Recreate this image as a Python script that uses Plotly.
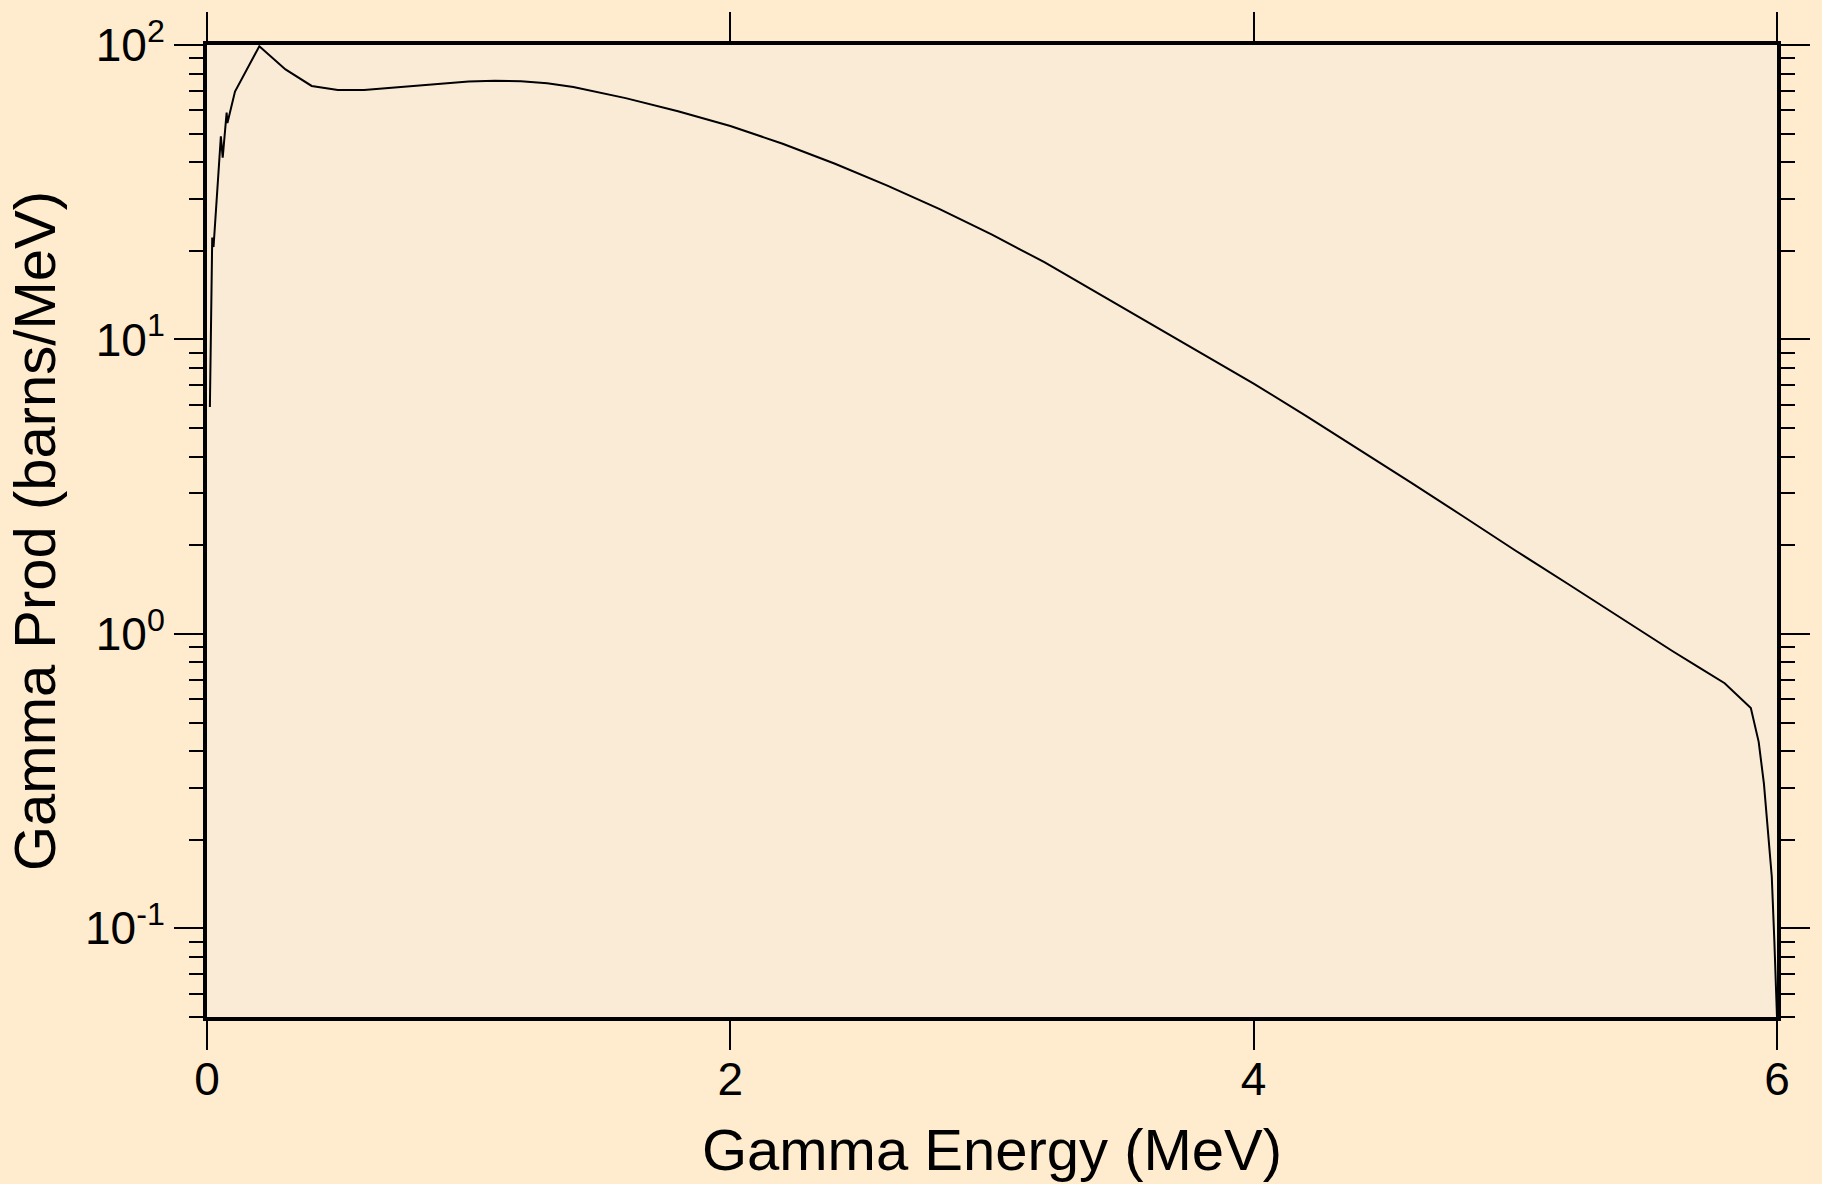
import math
import plotly.graph_objects as go

# Data
energy_mev = [0.011, 0.020, 0.025, 0.053, 0.060, 0.075, 0.078, 0.107, 0.200, 0.300,
              0.400, 0.500, 0.600, 0.700, 0.800, 0.900, 1.000, 1.100, 1.200, 1.300,
              1.400, 1.600, 1.800, 2.000, 2.200, 2.400, 2.600, 2.800, 3.000, 3.200,
              3.400, 3.600, 3.800, 4.000, 4.200, 4.400, 4.600, 4.800, 5.000, 5.200,
              5.400, 5.600, 5.700, 5.800, 5.900, 5.930, 5.950, 5.965, 5.980, 5.990,
              6.000]
gamma_prod = [5.9, 22.2, 20.6, 49.0, 41.4, 59.0, 54.3, 69.5, 99.0, 82.6,
              72.6, 70.3, 70.3, 71.5, 73.0, 74.3, 75.2, 75.6, 75.3, 74.2,
              72.0, 66.0, 59.6, 53.1, 46.2, 39.5, 33.3, 27.7, 22.7, 18.3,
              14.45, 11.4, 9.0, 7.08, 5.50, 4.25, 3.27, 2.51, 1.92, 1.48,
              1.135, 0.875, 0.771, 0.68, 0.56, 0.43, 0.31, 0.22, 0.15, 0.09,
              0.05]

x_tickvals = [0, 2, 4, 6]
y_tickvals = [0.1, 1, 10, 100]
y_ticktext = ["10<sup>-1</sup>", "10<sup>0</sup>", "10<sup>1</sup>", "10<sup>2</sup>"]
y_minor = [m * 10 ** e for e in range(-2, 2) for m in range(2, 10) if m * 10 ** e >= 0.05]

fig = go.Figure(
    go.Scatter(x=energy_mev, y=gamma_prod, mode="lines",
               line=dict(color="black", width=2), hoverinfo="skip")
)

fig.update_layout(
    width=1822, height=1184,
    margin=dict(l=207, r=40, t=38, b=167),
    paper_bgcolor="#FFEBCD",
    plot_bgcolor="#FAEBD7",
    showlegend=False,
    font=dict(family="Liberation Sans, Arial, sans-serif", color="black"),
)

fig.update_xaxes(
    range=[0, 6], tickmode="array", tickvals=x_tickvals,
    ticks="outside", ticklen=29, tickwidth=2, tickcolor="black",
    showline=True, linewidth=4, linecolor="black", mirror="allticks",
    showgrid=False, zeroline=False,
    tickfont=dict(size=46), ticklabelstandoff=-10,
    title=dict(text="Gamma Energy (MeV)", font=dict(size=58), standoff=26),
)

fig.update_yaxes(
    type="log", range=[math.log10(0.05), 2],
    tickmode="array", tickvals=y_tickvals, ticktext=y_ticktext,
    ticks="outside", ticklen=29, tickwidth=2, tickcolor="black",
    minor=dict(tickmode="array", tickvals=y_minor, ticks="outside",
               ticklen=14, tickwidth=2, tickcolor="black", showgrid=False),
    showline=True, linewidth=4, linecolor="black", mirror="allticks",
    showgrid=False, zeroline=False,
    tickfont=dict(size=46),
    title=dict(text="Gamma Prod (barns/MeV)", font=dict(size=58), standoff=12),
)

fig.write_html(
    "out.html",
    config={"displayModeBar": False},
    post_script="document.body.style.margin='0';document.body.style.background='#FFEBCD';",
)
